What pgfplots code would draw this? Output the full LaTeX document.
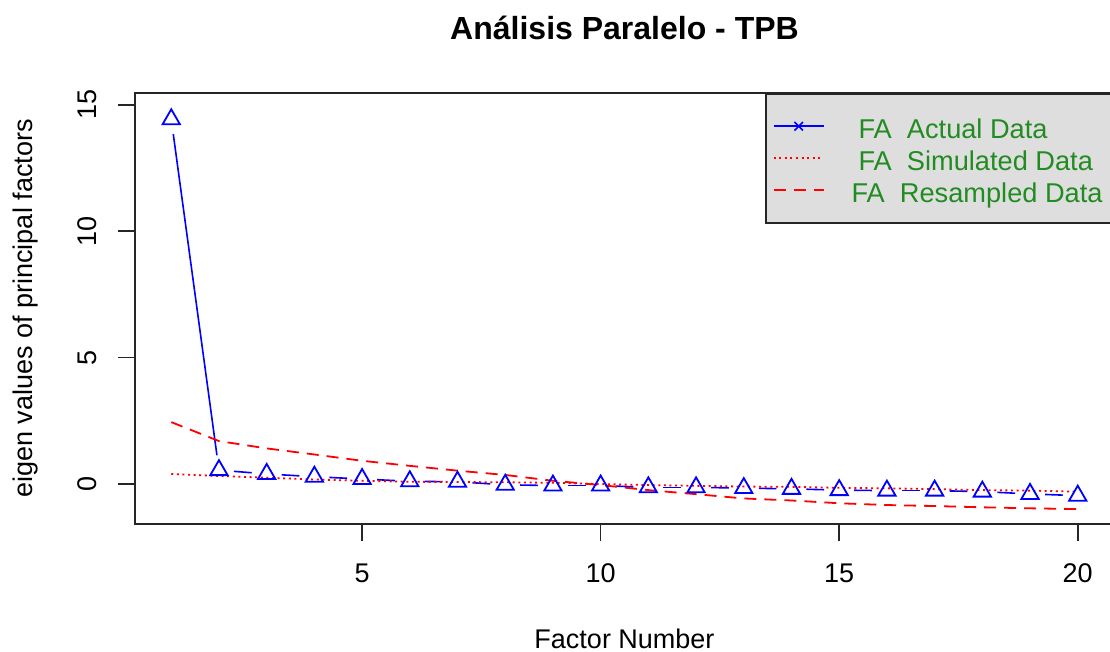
\documentclass[border=0pt]{standalone}
\usepackage{pgfplots}
\pgfplotsset{compat=1.18}
\usepackage{pgfplotstable}
\usetikzlibrary{calc}
\usepackage{fontspec}
\setmainfont{Liberation Sans}
\definecolor{legendgray}{RGB}{222,222,222}
\definecolor{rgreen}{RGB}{34,139,34}
\definecolor{rblue}{RGB}{0,0,255}
\definecolor{rred}{RGB}{255,0,0}

\pgfplotstableread{
x actual sim resamp
1 14.43 0.40 2.45
2 0.55 0.32 1.70
3 0.40 0.25 1.41
4 0.29 0.18 1.17
5 0.20 0.13 0.92
6 0.11 0.09 0.72
7 0.09 0.08 0.53
8 -0.03 0.07 0.36
9 -0.06 0.05 0.13
10 -0.06 0.00 -0.04
11 -0.13 -0.04 -0.24
12 -0.13 -0.07 -0.40
13 -0.16 -0.10 -0.57
14 -0.19 -0.11 -0.65
15 -0.24 -0.15 -0.76
16 -0.26 -0.17 -0.83
17 -0.26 -0.20 -0.87
18 -0.30 -0.24 -0.92
19 -0.39 -0.26 -0.96
20 -0.46 -0.30 -0.99
}\eigdata

\begin{document}
\begin{tikzpicture}
\path[use as bounding box] (0,0) rectangle (555pt,326pt);
\begin{axis}[
  at={(67.5pt,64pt)}, anchor=south west,
  width=489.5pt, height=215.5pt, scale only axis,
  xmin=0.24, xmax=20.76, ymin=-1.58, ymax=15.47,
  xtick={5,10,15,20}, ytick={0,5,10,15},
  tick align=outside, tick pos=left,
  major tick length=8.5pt,
  axis line style={black!85, line width=0.8pt},
  every tick/.style={black!85, line width=0.8pt},
  /pgf/number format/assume math mode=true,
  tick label style={font=\fontsize{13.5}{16}\selectfont},
  xticklabel style={anchor=base, yshift=-21pt},
  yticklabel style={xshift=-10.5pt, rotate=90, anchor=base},
  title={Análisis Paralelo - TPB},
  title style={at={(axis description cs:0.5,1)}, anchor=base, yshift=20.5pt, font=\bfseries\fontsize{16}{19}\selectfont},
  xlabel={Factor Number},
  ylabel={eigen values of principal factors},
  label style={font=\fontsize{13.5}{16}\selectfont},
  xlabel style={at={(axis description cs:0.5,0)}, anchor=base, yshift=-62.5pt},
  ylabel style={at={($(axis description cs:0,0.5)+(-51pt,0pt)$)}, anchor=base},
  legend cell align=left,
  legend style={at={(rel axis cs:0.6435,1)}, anchor=north west,
    fill=legendgray, draw=black!85, line width=0.8pt,
    font=\fontsize{13.6}{16}\selectfont, text=rgreen,
    inner xsep=3.5pt, inner ysep=8.25pt, row sep=0pt,
    nodes={inner sep=0pt, text height=14.25pt, text depth=1.75pt},
    /tikz/every odd column/.append style={column sep=13.5pt}},
  legend image code/.code={\draw[mark repeat=2, mark phase=2, #1] plot coordinates {(0pt,0pt) (12.5pt,0pt) (25pt,0pt)};},
]
\pgfplotsinvokeforeach{1,...,19}{
  \addplot[rblue, line width=0.8pt, shorten <=7.5pt, shorten >=7.5pt, forget plot,
    restrict expr to domain={\thisrow{x}-#1}{-0.01:1.01}] table[x=x, y=actual] {\eigdata};
}
\addplot[only marks, rblue, mark=triangle, mark size=5pt, mark options={line width=0.9pt, fill=none}, forget plot] table[x=x, y=actual] {\eigdata};
\addplot[rred, line width=0.9pt, dash pattern=on 1pt off 1.8pt, forget plot] table[x=x, y=sim] {\eigdata};
\addplot[rred, line width=0.9pt, dash pattern=on 6pt off 4pt, forget plot] table[x=x, y=resamp] {\eigdata};
\addlegendimage{rblue, line width=0.8pt, mark=x, mark size=3pt, mark options={solid}}
\addlegendentry{\hspace*{3.5pt}FA~~Actual Data}
\addlegendimage{rred, line width=0.9pt, dash pattern=on 1pt off 1.8pt}
\addlegendentry{\hspace*{3.5pt}FA~~Simulated Data}
\addlegendimage{rred, line width=0.9pt, dash pattern=on 6pt off 4pt}
\addlegendentry{FA~~Resampled Data\hspace*{20pt}}
\end{axis}
\end{tikzpicture}
\end{document}
